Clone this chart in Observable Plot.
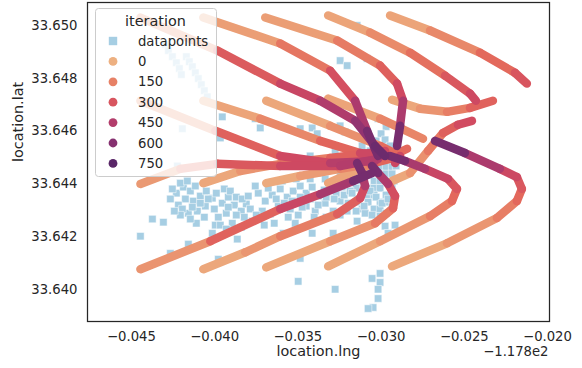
<!DOCTYPE html>
<html><head><meta charset="utf-8">
<script src="https://cdn.jsdelivr.net/npm/d3@7"></script>
<script src="https://cdn.jsdelivr.net/npm/@observablehq/plot@0.6"></script>
<style>body{margin:0;background:#fff} #chart{width:582px;height:368px}</style>
</head><body><div id="chart"></div><script>
// datapoints: longitude relative to -117.8, latitude
const dataLng = [-0.04296,-0.04278,-0.04254,-0.0423,-0.04212,-0.042,-0.0417,-0.04152,-0.04134,-0.04116,-0.04098,-0.0408,-0.04062,-0.04044,-0.04194,-0.04224,-0.03954,-0.03966,-0.03756,-0.03726,-0.03486,-0.03414,-0.03384,-0.03246,-0.03216,-0.03144,-0.03246,-0.03204,-0.03084,
-0.0423,-0.04188,-0.04146,-0.04176,-0.04218,-0.04128,-0.04086,-0.0405,-0.04014,-0.04056,-0.04104,-0.04158,-0.04002,-0.03954,-0.03918,-0.03882,-0.0393,-0.03978,-0.0384,-0.0381,-0.03894,-0.03996,-0.0411,
-0.04374,-0.04308,-0.04446,-0.04266,-0.04158,-0.03978,-0.03864,
-0.03738,-0.03696,-0.03654,-0.03606,-0.03564,-0.03528,-0.03486,-0.0345,-0.03414,-0.03378,-0.03342,-0.03306,-0.0327,-0.03234,-0.03714,-0.03666,-0.03618,-0.03546,-0.03498,-0.0345,-0.03396,-0.03336,-0.03288,-0.03246,-0.03516,-0.03414,-0.03588,-0.03702,-0.03288,-0.03204,-0.03144,
-0.03576,-0.03498,-0.03426,-0.03354,-0.03276,-0.03216,-0.03486,-0.03378,-0.03246,-0.03186,
-0.03042,-0.03006,-0.0297,
-0.03078,-0.03006,-0.0297,-0.02934,
-0.0315,-0.03114,-0.03042,-0.0297,-0.02934,
-0.0315,-0.03078,-0.03042,-0.03006,-0.0297,-0.02934,
-0.03114,-0.03078,-0.03006,-0.0297,-0.02934,
-0.0315,-0.03114,-0.03042,-0.03006,-0.0297,
-0.0315,-0.03078,-0.03042,-0.03006,-0.02934,
-0.03114,-0.03078,-0.03042,-0.0297,
-0.0315,-0.03078,-0.03006,-0.0297,
-0.03114,-0.03042,-0.03006,
-0.03018,-0.0297,-0.03,-0.02976,
-0.02976,-0.02916,-0.02958,-0.03096,
-0.03498,-0.03276,-0.03054,-0.03006,-0.03006,-0.03018,-0.03018,-0.03048,-0.03078,-0.03486,
-0.04206,-0.04164,-0.04116,-0.04254,-0.04266,-0.04194,-0.04134,-0.04086,-0.04038,-0.0399,-0.03942,-0.03906,-0.0387,-0.03834,-0.03798,-0.03786,-0.03822,-0.0387,-0.03918,-0.03966,-0.04062,-0.04146,-0.04206,-0.04242,-0.04014,-0.0393,-0.0384,-0.03774,-0.0375,
-0.03756,-0.03678,-0.0363,-0.03582,-0.03534,-0.03486,-0.03426,-0.03378,-0.0333,-0.03282,-0.03222,-0.03186,-0.03198,-0.0315,-0.03246,-0.0333,-0.03402,-0.03474,-0.03558,-0.03642,-0.03594,-0.0351,-0.03426,-0.03336,-0.03258,
-0.03186,-0.03174,-0.03138,-0.03102,-0.03066,-0.0303,-0.02994,-0.02958,-0.03138,-0.03174,-0.03102,-0.03054,-0.03006,-0.0297,-0.02934,-0.02922,-0.0291,-0.02946,-0.0303,-0.03066,-0.03114];
const dataLat = [33.64928,33.64905,33.64882,33.64859,33.64837,33.64814,33.64882,33.64863,33.64844,33.64821,33.64799,33.64776,33.64753,33.6473,33.64609,33.64468,33.64654,33.64574,33.64647,33.64612,33.64609,33.64612,33.6459,33.6462,33.64597,33.65,33.64867,33.64848,33.64875,
33.64365,33.64388,33.64373,33.64343,33.6432,33.64335,33.64354,33.64373,33.64346,33.64316,33.64297,33.64289,33.64305,33.64327,33.6435,33.6432,33.64289,33.64274,33.64297,33.64324,33.64251,33.64244,33.64251,
33.64267,33.64255,33.64202,33.64137,33.64172,33.64115,33.64191,
33.64365,33.64335,33.64358,33.64381,33.6435,33.64373,33.64392,33.64365,33.64388,33.64354,33.64377,33.64396,33.64365,33.64388,33.64297,33.64286,33.64316,33.64305,33.64282,33.64316,33.64297,33.64327,33.64297,33.64335,33.64251,33.64213,33.64213,33.64244,33.64213,33.64297,33.64259,
33.64487,33.64468,33.64506,33.64479,33.64525,33.64495,33.6443,33.64441,33.64441,33.64411,
33.64544,33.64544,33.64544,
33.64517,33.64517,33.64517,33.64517,
33.64491,33.64491,33.64491,33.64491,33.64491,
33.64464,33.64464,33.64464,33.64464,33.64464,33.64464,
33.64438,33.64438,33.64438,33.64438,33.64438,
33.64411,33.64411,33.64411,33.64411,33.64411,
33.64384,33.64384,33.64384,33.64384,33.64384,
33.64358,33.64358,33.64358,33.64358,
33.64331,33.64331,33.64331,33.64331,
33.64305,33.64305,33.64305,
33.64647,33.64617,33.6459,33.64567,
33.6424,33.64244,33.64213,33.64289,
33.64031,33.64001,33.64042,33.64061,33.64027,33.64001,33.63966,33.63932,33.63928,33.64118,
33.64403,33.64411,33.64392,33.64381,33.64343,33.64305,33.64312,33.64327,33.64343,33.64365,33.64381,33.64373,33.6435,33.64343,33.64354,33.64305,33.64274,33.64282,33.64312,33.64244,33.64274,33.64267,33.64282,33.64297,33.64213,33.64229,33.64236,33.64259,33.64282,
33.64392,33.64384,33.64343,33.64327,33.64335,33.6435,33.64343,33.6432,33.6435,33.64343,33.64358,33.64373,33.64327,33.64297,33.64282,33.64274,33.64274,33.64312,33.64274,33.64251,33.64411,33.64419,33.64419,33.64419,33.64411,
33.64468,33.6443,33.64449,33.64419,33.64373,33.6435,33.64327,33.64343,33.64343,33.64365,33.64316,33.64282,33.64278,33.64289,33.64312,33.64411,33.64468,33.64544,33.64563,33.64525,33.64544];

// trajectories: [lng offset, lat, iteration]
const path00 = [[-0.04446,33.64077,0],[-0.04026,33.64183,180],[-0.03606,33.64305,320],[-0.03366,33.64361,420],[-0.03168,33.64411,560],[-0.03054,33.64441,750]];
const path10 = [[-0.04068,33.64077,0],[-0.03816,33.64141,60],[-0.03606,33.64202,110],[-0.03264,33.64286,220],[-0.03126,33.64346,300],[-0.03096,33.64392,380],[-0.03114,33.64441,550],[-0.03144,33.64479,750]];
const path20 = [[-0.0369,33.64084,0],[-0.03306,33.64183,60],[-0.03036,33.64251,130],[-0.02928,33.64308,220],[-0.02916,33.64354,280],[-0.02958,33.644,380],[-0.03018,33.64441,550],[-0.03054,33.64468,750]];
const path30 = [[-0.03318,33.64088,0],[-0.03006,33.64183,50],[-0.02706,33.64278,120],[-0.02574,33.64335,200],[-0.02544,33.64381,260],[-0.02598,33.64419,330],[-0.02736,33.64457,420],[-0.02856,33.64487,550],[-0.02946,33.64506,750]];
const path40 = [[-0.02934,33.64088,0],[-0.02604,33.64175,50],[-0.02304,33.64271,120],[-0.02184,33.64335,200],[-0.02154,33.64381,260],[-0.02184,33.64426,320],[-0.02286,33.64457,400],[-0.02496,33.64517,550],[-0.02676,33.64563,750]];
const path01 = [[-0.04446,33.644,0],[-0.04206,33.64457,150],[-0.03984,33.64476,250],[-0.03606,33.64468,320],[-0.03246,33.64468,390],[-0.03018,33.64495,500]];
const path11 = [[-0.04068,33.64403,0],[-0.03846,33.64449,60],[-0.03606,33.64476,120],[-0.03306,33.64498,200],[-0.03096,33.64514,300],[-0.02976,33.64525,400]];
const path21 = [[-0.0369,33.64403,0],[-0.03486,33.6443,40],[-0.03246,33.64457,100],[-0.03066,33.64476,180],[-0.02946,33.64495,300]];
const path31 = [[-0.03318,33.64403,0],[-0.03126,33.64457,80],[-0.02946,33.64502,160],[-0.02844,33.64533,300]];
const path41 = [[-0.02934,33.64411,0],[-0.02826,33.64441,60],[-0.02718,33.64525,140],[-0.02628,33.64593,220],[-0.02538,33.64624,300],[-0.02454,33.64639,380]];
const path02 = [[-0.04446,33.64715,0],[-0.03996,33.64601,200],[-0.03606,33.64506,310],[-0.03306,33.64479,390],[-0.03036,33.64487,480]];
const path12 = [[-0.04068,33.64715,0],[-0.03726,33.64647,80],[-0.03366,33.64563,180],[-0.03126,33.64517,300],[-0.02976,33.64506,420]];
const path22 = [[-0.0369,33.64715,0],[-0.03306,33.6462,60],[-0.03006,33.64544,150],[-0.02886,33.64506,280],[-0.02916,33.64479,450]];
const path32 = [[-0.03318,33.64723,0],[-0.03006,33.64647,80],[-0.02748,33.64571,200]];
const path42 = [[-0.02934,33.64719,0],[-0.02766,33.64685,60],[-0.02604,33.64673,120],[-0.02466,33.64688,200],[-0.02328,33.64715,300]];
const path03 = [[-0.04446,33.6503,0],[-0.03984,33.64905,230],[-0.03606,33.6478,330],[-0.03366,33.64715,420],[-0.03156,33.64639,500],[-0.03036,33.64544,620],[-0.02976,33.64506,750]];
const path13 = [[-0.04068,33.6503,0],[-0.03606,33.64932,120],[-0.03306,33.64829,250],[-0.03156,33.64715,400],[-0.03084,33.64601,550],[-0.03018,33.64506,750]];
const path23 = [[-0.03696,33.6503,0],[-0.03264,33.64943,120],[-0.03006,33.64848,220],[-0.02904,33.6478,300],[-0.02868,33.64715,400],[-0.02886,33.6462,550],[-0.02904,33.64544,750]];
const path33 = [[-0.03318,33.65038,0],[-0.03066,33.64973,80],[-0.02826,33.64897,160],[-0.02616,33.6481,250],[-0.02466,33.64742,330],[-0.0243,33.64715,380]];
const path43 = [[-0.02946,33.65038,0],[-0.02706,33.64981,80],[-0.02406,33.64897,180],[-0.02196,33.64821,270],[-0.02124,33.6478,330]];
const paths = [path00,path10,path20,path30,path40,path01,path11,path21,path31,path41,path02,path12,path22,path32,path42,path03,path13,path23,path33,path43];

const xTicks = [-0.045,-0.040,-0.035,-0.030,-0.025,-0.020];
const yTicks = [33.640,33.642,33.644,33.646,33.648,33.650];
const legendIters = [0,150,300,450,600,750];
const colorStops = [0,114.3,228.6,342.9,457.1,571.4,685.7,800];
const colorRange = ["#edb081","#e98d6b","#e3685c","#d14a61","#b13c6c","#8f3371","#6c2b6d","#4b2362"];
const pointColor = "#a6cee3";
const ink = "#262626";

const dataRows = dataLng.map((x,i)=>({x, y: dataLat[i]}));
const segments = [];
paths.forEach((p,k)=>{ for(let i=1;i<p.length;i++){ segments.push({id:k,x1:p[i-1][0],y1:p[i-1][1],x2:p[i][0],y2:p[i][1],iter:(p[i-1][2]+p[i][2])/2}); } });
segments.sort((a,b)=>a.iter-b.iter);
const minus = s => s.replace("-", "\u2212");

const chart = Plot.plot({
  width: 582, height: 368,
  marginLeft: 87, marginRight: 33, marginTop: 2, marginBottom: 47,
  style: {fontFamily: "DejaVu Sans", fontSize: "13.2px", color: ink, background: "#fff"},
  x: {domain: [-0.04764, -0.01988], ticks: xTicks, tickFormat: d => minus(d.toFixed(3)), tickSize: 0, tickPadding: 10, label: null},
  y: {domain: [33.63879, 33.65087], ticks: yTicks, tickFormat: d => d.toFixed(3), tickSize: 0, tickPadding: 10, label: null},
  color: {type: "linear", domain: colorStops, range: colorRange},
  marks: [
    Plot.dot(dataRows, {x: "x", y: "y", symbol: "square", r: 4.2, fill: pointColor, stroke: "white", strokeWidth: 0.5}),
    Plot.link(segments, {x1: "x1", y1: "y1", x2: "x2", y2: "y2", stroke: "iter", strokeWidth: 8.5, strokeLinecap: "round"}),
    Plot.frame({stroke: ink, strokeWidth: 1.25}),
    Plot.text(["location.lng"], {text: d => d, frameAnchor: "bottom", dy: 34, fontSize: 14.4, fill: ink}),
    Plot.text(["location.lat"], {text: d => d, frameAnchor: "left", dx: -69, rotate: -90, fontSize: 14.4, fill: ink}),
    Plot.text(["\u22121.178e2"], {text: d => d, frameAnchor: "bottom-right", textAnchor: "end", dy: 34, dx: -1, fontSize: 13.2, fill: ink})
  ]
});
document.getElementById("chart").appendChild(chart);

// legend inside the axes (upper left)
const color = chart.scale("color");
const svg = d3.select(chart.tagName.toLowerCase() === "svg" ? chart : chart.querySelector("svg"));
const lg = svg.append("g").attr("font-family", "DejaVu Sans").attr("fill", ink).attr("text-anchor", "start");
lg.append("rect").attr("x", 95.5).attr("y", 8.5).attr("width", 121).attr("height", 168).attr("rx", 3)
  .attr("fill", "white").attr("fill-opacity", 0.8).attr("stroke", "#cccccc").attr("stroke-width", 1);
lg.append("text").attr("x", 155.5).attr("y", 21).attr("dy", "0.35em").attr("text-anchor", "middle").attr("font-size", 14.4).text("iteration");
const rowY = i => 41 + 20.4 * i;
lg.append("rect").attr("x", 113 - 4.2).attr("y", rowY(0) - 4.2).attr("width", 8.4).attr("height", 8.4).attr("fill", pointColor);
lg.append("text").attr("x", 138).attr("y", rowY(0)).attr("dy", "0.35em").attr("text-anchor", "start").attr("font-size", 13.2).text("datapoints");
legendIters.forEach((v, i) => {
  lg.append("circle").attr("cx", 113).attr("cy", rowY(i + 1)).attr("r", 4.4).attr("fill", color.apply(v));
  lg.append("text").attr("x", 138).attr("y", rowY(i + 1)).attr("dy", "0.35em").attr("text-anchor", "start").attr("font-size", 13.2).text(String(v));
});
</script></body></html>
